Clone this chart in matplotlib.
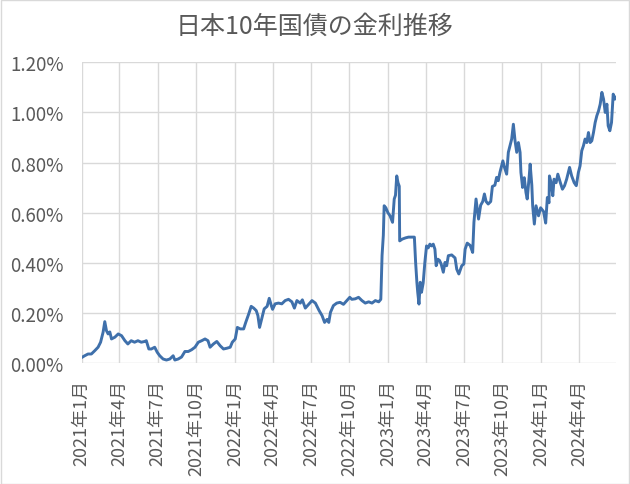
import matplotlib
matplotlib.use("Agg")
import matplotlib.pyplot as plt
from matplotlib.ticker import FuncFormatter, MultipleLocator
from matplotlib.patches import Rectangle
import pandas as pd

plt.rcParams['font.family'] = ['Noto Sans CJK JP', 'DejaVu Sans']

# 10年国債利回り (%)
dates_2021 = ["2021-01-02", "2021-01-08", "2021-01-16", "2021-01-24", "2021-02-01", "2021-02-09",
              "2021-02-15", "2021-02-21", "2021-02-25", "2021-03-01", "2021-03-05", "2021-03-09",
              "2021-03-13", "2021-03-21", "2021-03-29", "2021-04-06", "2021-04-14", "2021-04-21",
              "2021-04-29", "2021-05-07", "2021-05-15", "2021-05-23", "2021-05-31", "2021-06-04",
              "2021-06-10", "2021-06-16", "2021-06-24", "2021-06-30", "2021-07-06", "2021-07-14",
              "2021-07-22", "2021-07-30", "2021-08-07", "2021-08-11", "2021-08-19", "2021-08-27",
              "2021-09-04", "2021-09-12", "2021-09-20", "2021-09-28", "2021-10-06", "2021-10-14",
              "2021-10-22", "2021-10-29", "2021-11-03", "2021-11-11", "2021-11-19", "2021-11-27",
              "2021-12-05", "2021-12-13", "2021-12-21", "2021-12-26"]
yields_2021 = [0.024, 0.030, 0.037, 0.037, 0.050, 0.064,
               0.084, 0.124, 0.166, 0.130, 0.117, 0.125,
               0.097, 0.104, 0.117, 0.110, 0.090, 0.077,
               0.090, 0.084, 0.090, 0.084, 0.087, 0.090,
               0.057, 0.057, 0.064, 0.044, 0.030, 0.017,
               0.013, 0.017, 0.030, 0.013, 0.017, 0.025,
               0.047, 0.047, 0.054, 0.064, 0.084, 0.090,
               0.097, 0.090, 0.064, 0.077, 0.087, 0.070,
               0.057, 0.060, 0.064, 0.084]

dates_2022 = ["2022-01-02", "2022-01-07", "2022-01-14", "2022-01-22", "2022-01-27", "2022-02-03",
              "2022-02-09", "2022-02-15", "2022-02-21", "2022-02-25", "2022-03-01", "2022-03-07",
              "2022-03-12", "2022-03-19", "2022-03-24", "2022-03-29", "2022-04-01", "2022-04-07",
              "2022-04-15", "2022-04-23", "2022-05-01", "2022-05-09", "2022-05-17", "2022-05-23",
              "2022-05-29", "2022-06-06", "2022-06-11", "2022-06-18", "2022-06-26", "2022-07-04",
              "2022-07-12", "2022-07-21", "2022-07-28", "2022-08-03", "2022-08-09", "2022-08-13",
              "2022-08-17", "2022-08-24", "2022-09-01", "2022-09-09", "2022-09-17", "2022-09-25",
              "2022-10-02", "2022-10-07", "2022-10-15", "2022-10-23", "2022-10-31", "2022-11-08",
              "2022-11-16", "2022-11-24", "2022-12-02", "2022-12-10", "2022-12-15", "2022-12-18",
              "2022-12-21", "2022-12-23", "2022-12-27"]
yields_2022 = [0.097, 0.143, 0.137, 0.137, 0.163, 0.196,
               0.227, 0.220, 0.210, 0.190, 0.143, 0.183,
               0.217, 0.227, 0.259, 0.230, 0.215, 0.237,
               0.240, 0.237, 0.250, 0.255, 0.245, 0.220,
               0.250, 0.240, 0.253, 0.220, 0.235, 0.250,
               0.240, 0.210, 0.190, 0.163, 0.175, 0.163,
               0.203, 0.230, 0.240, 0.243, 0.235, 0.250,
               0.263, 0.255, 0.257, 0.263, 0.250, 0.240,
               0.245, 0.240, 0.250, 0.245, 0.255, 0.430,
               0.510, 0.628, 0.620]

dates_2023 = ["2023-01-01", "2023-01-06", "2023-01-12", "2023-01-16", "2023-01-19", "2023-01-22",
              "2023-01-25", "2023-01-28", "2023-01-29", "2023-02-04", "2023-02-12", "2023-02-19",
              "2023-02-27", "2023-03-05", "2023-03-08", "2023-03-11", "2023-03-13", "2023-03-16",
              "2023-03-19", "2023-03-22", "2023-03-26", "2023-03-30", "2023-04-03", "2023-04-07",
              "2023-04-11", "2023-04-15", "2023-04-19", "2023-04-23", "2023-04-26", "2023-04-30",
              "2023-05-04", "2023-05-08", "2023-05-13", "2023-05-17", "2023-05-21", "2023-05-25",
              "2023-06-02", "2023-06-10", "2023-06-14", "2023-06-19", "2023-06-26", "2023-07-01",
              "2023-07-04", "2023-07-09", "2023-07-16", "2023-07-22", "2023-07-25", "2023-07-30",
              "2023-08-05", "2023-08-10", "2023-08-15", "2023-08-19", "2023-08-23", "2023-08-28",
              "2023-09-03", "2023-09-07", "2023-09-13", "2023-09-17", "2023-09-21", "2023-09-25",
              "2023-10-02", "2023-10-06", "2023-10-11", "2023-10-15", "2023-10-19", "2023-10-23",
              "2023-10-27", "2023-10-31", "2023-11-04", "2023-11-08", "2023-11-12", "2023-11-14",
              "2023-11-18", "2023-11-22", "2023-11-26", "2023-11-29", "2023-12-04", "2023-12-06",
              "2023-12-10", "2023-12-12", "2023-12-16", "2023-12-20", "2023-12-26", "2023-12-31"]
yields_2023 = [0.600, 0.588, 0.562, 0.655, 0.670, 0.747,
               0.720, 0.706, 0.488, 0.495, 0.500, 0.503,
               0.503, 0.503, 0.402, 0.323, 0.283, 0.236,
               0.323, 0.283, 0.320, 0.402, 0.468, 0.460,
               0.475, 0.468, 0.475, 0.455, 0.389, 0.415,
               0.410, 0.395, 0.363, 0.402, 0.389, 0.429,
               0.432, 0.420, 0.375, 0.356, 0.389, 0.396,
               0.455, 0.479, 0.470, 0.442, 0.562, 0.655,
               0.575, 0.630, 0.645, 0.675, 0.645, 0.635,
               0.645, 0.705, 0.710, 0.741, 0.728, 0.761,
               0.807, 0.780, 0.754, 0.841, 0.867, 0.894,
               0.953, 0.887, 0.841, 0.880, 0.841, 0.761,
               0.701, 0.740, 0.681, 0.655, 0.750, 0.794,
               0.710, 0.628, 0.555, 0.628, 0.588, 0.620]

dates_2024 = ["2024-01-07", "2024-01-12", "2024-01-16", "2024-01-20", "2024-01-21", "2024-01-25",
              "2024-01-29", "2024-02-01", "2024-02-06", "2024-02-10", "2024-02-16", "2024-02-21",
              "2024-02-26", "2024-03-02", "2024-03-09", "2024-03-14", "2024-03-20", "2024-03-25",
              "2024-03-30", "2024-04-03", "2024-04-07", "2024-04-11", "2024-04-15", "2024-04-19",
              "2024-04-23", "2024-04-27", "2024-05-01", "2024-05-05", "2024-05-09", "2024-05-13",
              "2024-05-17", "2024-05-21", "2024-05-25", "2024-05-29", "2024-06-02", "2024-06-06",
              "2024-06-09", "2024-06-13", "2024-06-17", "2024-06-21", "2024-06-25", "2024-06-27"]
yields_2024 = [0.605, 0.559, 0.661, 0.640, 0.747, 0.720,
               0.668, 0.734, 0.720, 0.754, 0.720, 0.694,
               0.708, 0.734, 0.781, 0.747, 0.720, 0.708,
               0.761, 0.787, 0.847, 0.867, 0.894, 0.880,
               0.920, 0.880, 0.887, 0.920, 0.960, 0.987,
               1.006, 1.033, 1.080, 1.053, 1.000, 1.033,
               0.947, 0.927, 0.960, 1.073, 1.053, 1.060]

tick_months = ["2021-01", "2021-04", "2021-07", "2021-10", "2022-01", "2022-04", "2022-07",
               "2022-10", "2023-01", "2023-04", "2023-07", "2023-10", "2024-01", "2024-04"]

dates = pd.to_datetime(dates_2021 + dates_2022 + dates_2023 + dates_2024)
yields = yields_2021 + yields_2022 + yields_2023 + yields_2024

grey = "#595959"
fig = plt.figure(figsize=(6.3, 4.85), dpi=100)
ax = fig.add_axes([0.1297, 0.2489, 0.8483, 0.6206])

ax.plot(dates, yields, color="#3F70AB", lw=2.1, solid_joinstyle="round")

ticks = pd.to_datetime(tick_months)
ax.set_xticks(ticks)
ax.set_xticklabels([f"{d.year}年{d.month}月" for d in ticks], rotation=90,
                   fontsize=13, color=grey)
ax.set_xlim(pd.Timestamp("2021-01-01"), pd.Timestamp("2024-06-28"))

ax.set_ylim(0, 1.2)
ax.yaxis.set_major_locator(MultipleLocator(0.2))
ax.yaxis.set_major_formatter(FuncFormatter(lambda v, p: f"{v:.2f}%"))
for lab in ax.get_yticklabels():
    lab.set_fontsize(13.5)
    lab.set_color(grey)

ax.grid(True, color="#D9D9D9", lw=1.0)
ax.set_axisbelow(True)
for s in ax.spines.values():
    s.set_visible(False)
ax.tick_params(axis="x", length=0, pad=11)
ax.tick_params(axis="y", length=0, pad=13)

fig.text(0.5, 1 - 27 / 485, "日本10年国債の金利推移", ha="center", va="center",
         fontsize=18, color=grey)

fig.patches.append(Rectangle((0.001, 0.001), 0.997, 0.997, transform=fig.transFigure,
                             fill=False, edgecolor="#D9D9D9", lw=1.0))

fig.savefig("out.png", dpi=100)
